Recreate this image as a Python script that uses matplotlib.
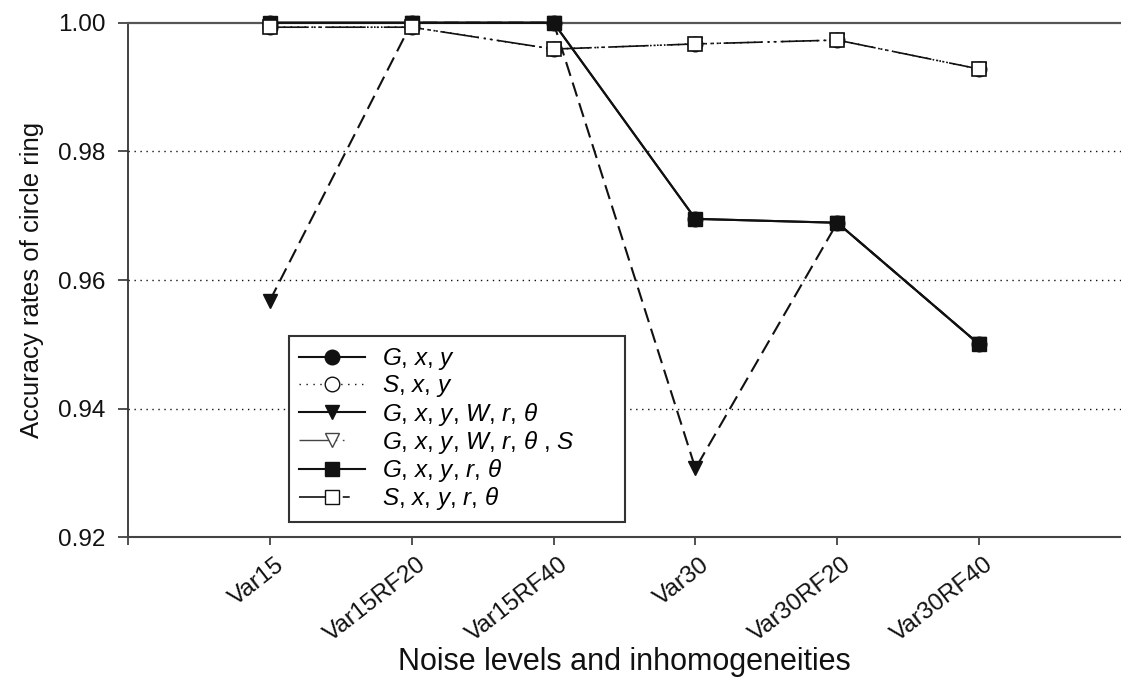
import matplotlib
matplotlib.use("Agg")
import matplotlib.pyplot as plt
import matplotlib.transforms as mtransforms
from matplotlib.lines import Line2D
import numpy as np

plt.rcParams['font.family'] = ['Liberation Sans', 'DejaVu Sans']
plt.rcParams['lines.scale_dashes'] = False
plt.rcParams['mathtext.fontset'] = 'custom'
plt.rcParams['mathtext.it'] = 'Liberation Sans:italic'
plt.rcParams['mathtext.rm'] = 'Liberation Sans'

# noise / inhomogeneity settings on the x axis
levels = ['Var15', 'Var15RF20', 'Var15RF40', 'Var30', 'Var30RF20', 'Var30RF40']

# accuracy rates of the circle ring for each feature set
g_xy = [1.0, 1.0, 1.0, 0.9695, 0.9689, 0.950]
s_xy = [0.9993, 0.9993, 0.9959, 0.9967, 0.9973, 0.9928]
g_xy_wrt = [0.9568, 1.0, 1.0, 0.9307, 0.9689, 0.950]
g_xy_wrt_s = [0.9993, 0.9993, 0.9959, 0.9967, 0.9973, 0.9928]
g_xy_rt = [1.0, 1.0, 1.0, 0.9695, 0.9689, 0.950]
s_xy_rt = [0.9993, 0.9993, 0.9959, 0.9967, 0.9973, 0.9928]

labels = ['$G$, $x$, $y$',
          '$S$, $x$, $y$',
          '$G$, $x$, $y$, $W$, $r$, $\\theta$',
          '$G$, $x$, $y$, $W$, $r$, $\\theta$ , $S$',
          '$G$, $x$, $y$, $r$, $\\theta$',
          '$S$, $x$, $y$, $r$, $\\theta$']

ink = '#111111'
x = np.arange(1, len(levels) + 1)

fig = plt.figure(figsize=(11.21, 6.78), dpi=100)
ax = fig.add_axes([128 / 1121, 1 - 537.3 / 678, 993 / 1121, 514.6 / 678])

ms = 10.5
ax.plot(x, g_xy_rt, color=ink, lw=1.5, ls='-', marker='s', ms=ms,
        mfc=ink, mec=ink, clip_on=False, zorder=3)
ax.plot(x, g_xy, color=ink, lw=1.5, ls='-', marker='o', ms=ms,
        mfc=ink, mec=ink, clip_on=False, zorder=3)
ax.plot(x, s_xy, color=ink, lw=1.0, ls=(0, (1, 4)), marker='o', ms=ms,
        mfc='white', mec=ink, clip_on=False, zorder=3)
ax.plot(x, g_xy_wrt, color=ink, lw=1.5, ls=(0, (10.5, 5)), marker='v', ms=ms,
        mfc=ink, mec=ink, clip_on=False, zorder=4)
ax.plot(x, g_xy_wrt_s, color=ink, lw=1.0, ls=(0, (1, 4)), marker='v', ms=ms,
        mfc='white', mec=ink, clip_on=False, zorder=4)
ax.plot(x, s_xy_rt, color=ink, lw=1.2, ls=(0, (28, 3.5, 1.5, 3, 1.5, 3.5)),
        marker='s', ms=ms, mfc='white', mec=ink, mew=1.2, clip_on=False, zorder=5)

ax.set_xlim(0, 7)
ax.set_ylim(0.92, 1.00)
ax.set_yticks([0.92, 0.94, 0.96, 0.98, 1.00])
ax.set_yticklabels(['0.92', '0.94', '0.96', '0.98', '1.00'])
ax.set_xticks(np.arange(0, 7))
ax.set_xticklabels([''] + levels)

# dotted reference lines
for yv in [0.94, 0.96, 0.98]:
    ax.axhline(yv, color=ink, lw=1.0, ls=(0, (1, 3.3)), zorder=1)

ax.spines['right'].set_visible(False)
ax.spines['top'].set_color('#555555')
ax.spines['top'].set_linewidth(1.6)
ax.spines['left'].set_color('#333333')
ax.spines['left'].set_linewidth(1.3)
ax.spines['bottom'].set_color('#444444')
ax.spines['bottom'].set_linewidth(1.5)

ax.tick_params(axis='y', direction='out', length=7.2, width=1.2, pad=9,
               labelsize=17.5, colors='#333333', labelcolor=ink)
ax.tick_params(axis='x', direction='out', length=5.8, width=1.2, pad=6,
               labelsize=17.5, colors='#333333', labelcolor=ink)

offset = mtransforms.ScaledTranslation(5 / 100, 0, fig.dpi_scale_trans)
for lab in ax.get_xticklabels():
    lab.set_rotation(38)
    lab.set_ha('right')
    lab.set_va('top')
    lab.set_rotation_mode('anchor')
    lab.set_transform(lab.get_transform() + offset)

ax.set_xlabel('Noise levels and inhomogeneities', fontsize=22, color=ink)
ax.xaxis.set_label_coords(0.5, -0.213)
ax.set_ylabel('Accuracy rates of circle ring', fontsize=18.5, color=ink)
ax.yaxis.set_label_coords(-0.085, 0.5)

# legend keys are drawn separately from the plotted lines
handles = [
    Line2D([], [], color=ink, lw=1.5, ls='-', marker='o', ms=ms, mfc=ink, mec=ink),
    Line2D([], [], color=ink, lw=1.0, ls=(0, (1, 4)), marker='o', ms=ms, mfc='white', mec=ink),
    Line2D([], [], color=ink, lw=1.5, ls='-', marker='v', ms=ms, mfc=ink, mec=ink),
    Line2D([], [], color='#444444', lw=1.0, ls=(0, (22, 4, 1.2, 4, 1.2, 30)), marker='v', ms=ms,
           mfc='white', mec='#444444'),
    Line2D([], [], color=ink, lw=1.5, ls='-', marker='s', ms=ms - 1, mfc=ink, mec=ink),
    Line2D([], [], color=ink, lw=1.2, ls=(0, (22, 4, 1.5, 4, 5, 30)), marker='s', ms=ms,
           mfc='white', mec=ink),
]
leg = ax.legend(handles, labels, loc='lower left', mode='expand',
                bbox_to_anchor=(0.162, 0.0297, 0.338, 0.36), borderaxespad=0,
                fontsize=17.5, handlelength=2.75, handletextpad=0.7,
                labelspacing=0.05, borderpad=0.4, fancybox=False,
                framealpha=1, edgecolor='#333333')
leg.get_frame().set_linewidth(1.5)
leg.set_zorder(10)

fig.savefig('out.png', dpi=100)
